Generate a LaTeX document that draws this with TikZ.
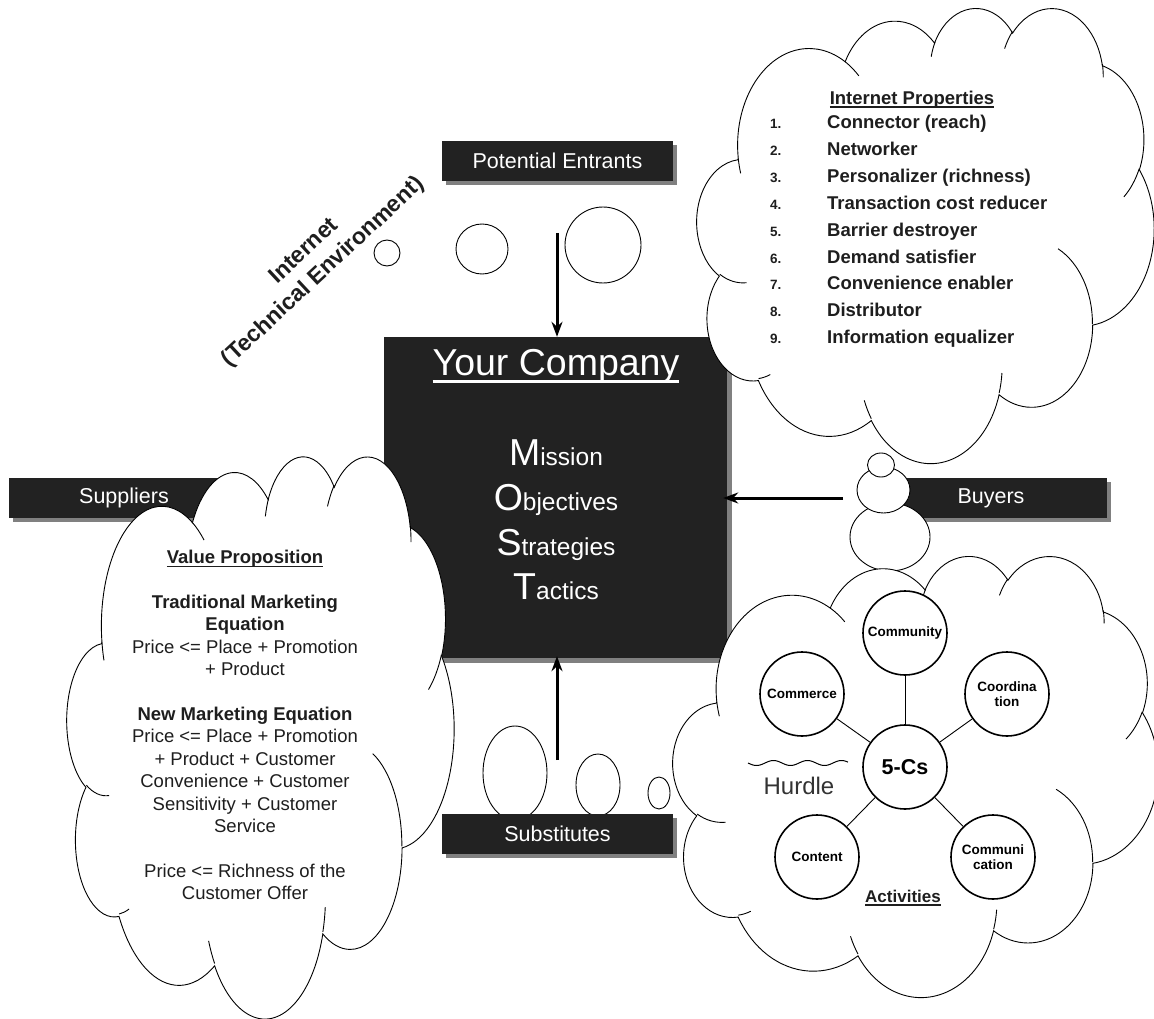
\documentclass[tikz,border=0pt]{standalone}
\usepackage{fontspec}
\setmainfont{Liberation Sans}
\usetikzlibrary{shadows,arrows.meta}
\definecolor{boxfill}{HTML}{222222}
\definecolor{shadowgray}{HTML}{808080}
\definecolor{txtdark}{HTML}{1E1E1E}
\definecolor{hurdlegray}{HTML}{333333}
\newcommand\myuline[3]{\leavevmode\setbox0\hbox{#3}\rlap{\rule[-#1]{\wd0}{#2}}\box0}
\tikzset{
  oo/.style n args={4}{x radius=#1, y radius=#2,
    start angle={atan2(sin(#3)*#1, cos(#3)*#2)},
    delta angle={mod(atan2(sin(#3+#4)*#1, cos(#3+#4)*#2) - atan2(sin(#3)*#1, cos(#3)*#2) + 720, 360)}},
  cloudline/.style={draw=black, line width=0.9pt},
  bubble/.style={draw=black, fill=white, line width=0.9pt},
  labelbox/.style={fill=boxfill, text=white, minimum width=231pt, minimum height=40pt, inner sep=0pt,
    font=\fontsize{21.5}{24}\selectfont,
    drop shadow={shadow xshift=4pt, shadow yshift=-4pt, fill=shadowgray, opacity=1}},
  bigbox/.style={fill=boxfill, minimum width=343pt, minimum height=321pt, inner sep=0pt,
    drop shadow={shadow xshift=5pt, shadow yshift=-5pt, fill=shadowgray, opacity=1}},
  most/.style={text=white, inner sep=0pt, font=\fontsize{24.5}{28}\selectfont},
  bigarrow/.style={line width=3pt, -{Stealth[length=15pt, width=11pt]}},
  cnode/.style={circle, draw=black, fill=white, line width=1.6pt, minimum size=84pt, inner sep=0pt,
    align=center, font=\bfseries\fontsize{13.5}{15}\selectfont},
  spoke/.style={draw=black, line width=0.9pt},
  ipnum/.style={inner sep=0pt, text=txtdark, font=\bfseries\fontsize{13.5}{15}\selectfont},
  iptext/.style={inner sep=0pt, text=txtdark, font=\bfseries\fontsize{18.5}{22}\selectfont}
}
\newcommand\ppcloud[4]{%
  \begin{scope}[shift={(#1,#2)}, xscale=#3/432, yscale=#4/432]
    \draw[cloudline, fill=white] (39.00,143.70)
      arc[oo={67.53}{91.90}{-190.48748}{123.78053}]
      arc[oo={53.33}{72.67}{-144.10238}{89.94523}]
      arc[oo={43.65}{59.45}{-145.80792}{99.72302}]
      arc[oo={48.57}{65.95}{-130.98607}{117.24173}]
      arc[oo={53.33}{72.73}{-78.70888}{109.02692}]
      arc[oo={67.75}{92.20}{-46.26725}{130.269}]
      arc[oo={57.85}{78.67}{0.62502}{114.03333}]
      arc[oo={67.52}{92.15}{22.4516}{115.17255}]
      arc[oo={77.20}{105.43}{66.24263}{75.71102}]
      arc[oo={43.60}{59.18}{-274.94208}{146.73557}]
      arc[oo={43.45}{59.45}{-246.8285}{152.51885}]
      -- cycle;
    \draw[cloudline]
      (46.93,261.77) arc[oo={43.45}{59.45}{86.742}{26.4295}]
      (69.28,348.99) arc[oo={43.60}{59.18}{73.61047}{11.44747}]
      (164.78,390.90) arc[oo={67.52}{92.15}{137.62415}{14.0811}]
      (288.27,347.51) arc[oo={67.52}{92.15}{6.45327}{15.99835}]
      (341.29,229.54) arc[oo={57.85}{78.67}{-70.29235}{70.91737}]
      (417.98,153.54) arc[oo={53.33}{72.73}{30.31803}{27.7515}]
      (383.24,54.26) arc[oo={48.57}{65.95}{-13.74433}{14.8589}]
      (290.78,39.52) arc[oo={48.57}{65.95}{-149.18145}{18.19537}]
      (221.41,47.20) arc[oo={43.65}{59.45}{-163.49427}{17.68635}]
      (140.00,51.92) arc[oo={67.53}{91.90}{-66.70695}{12.31935}]
      (41.27,157.89) arc[oo={67.53}{91.90}{157.65435}{11.85817}];
  \end{scope}}
\begin{document}
\begin{tikzpicture}[x=1pt, y=-1pt]
\useasboundingbox (0,0) rectangle (1154,1019);
\fill[white] (0,0) rectangle (1154,1019);
\clip (0,0) rectangle (1154,1019);

% central company box
\node[bigbox] (company) at (555.5,497.5) {};

% label boxes
\node[labelbox] (pe) at (557.5,161) {Potential Entrants};
\node[labelbox] (sup) at (124,498) {Suppliers};
\node[labelbox] (buy) at (991,498) {Buyers};

% callout tail bubbles
\draw[bubble] (603,245) circle [radius=38];
\draw[bubble] (482,249) ellipse [x radius=26, y radius=25];
\draw[bubble] (387,253) circle [radius=13];
\draw[bubble] (515,773) ellipse [x radius=32, y radius=47];
\draw[bubble] (598,785) ellipse [x radius=22, y radius=31];
\draw[bubble] (659,793) ellipse [x radius=11, y radius=16];
\draw[bubble] (890,537) ellipse [x radius=40, y radius=34];
\draw[bubble] (883.5,490) ellipse [x radius=26.5, y radius=23];
\draw[bubble] (881,465) ellipse [x radius=13.5, y radius=12];

\node[labelbox] (sub) at (557.5,834) {Substitutes};

% clouds
\ppcloud{697}{7}{457}{455}
\ppcloud{67}{455}{387}{562}
\ppcloud{673}{555}{485}{441}

% company texts
\node[text=white, inner sep=0pt, anchor=base, font=\fontsize{37.5}{40}\selectfont] (yc) at (556,375) {\myuline{7.5pt}{2.5pt}{Your Company}};
\node[most, anchor=base] (mo1) at (556,465) {{\fontsize{37.5}{40}\selectfont M}ission};
\node[most, anchor=base] (mo2) at (556,510) {{\fontsize{37.5}{40}\selectfont O}bjectives};
\node[most, anchor=base] (mo3) at (556,555) {{\fontsize{37.5}{40}\selectfont S}trategies};
\node[most, anchor=base] (mo4) at (556,599) {{\fontsize{37.5}{40}\selectfont T}actics};

% arrows
\coordinate (peA) at (557,233);
\coordinate (subA) at (557,760);
\coordinate (buyA) at (843,498);
\draw[bigarrow] (peA) -- (peA |- company.north);
\draw[bigarrow, shorten >=-2pt] (subA) -- (subA |- company.south);
\draw[bigarrow, shorten >=-4pt] (buyA) -- (buyA -| company.east);

% rotated label
\node[inner sep=0pt, align=center, rotate=43, text=txtdark, font=\bfseries\fontsize{23}{28}\selectfont] (inet) at (314,262) {Internet\\(Technical Environment)};

% Internet properties
\node[iptext, anchor=base] (iph) at (912,104.5) {\myuline{3.5pt}{1.5pt}{Internet Properties}};
\foreach \n/\t in {1/Connector (reach),2/Networker,3/Personalizer (richness),4/Transaction cost reducer,5/Barrier destroyer,6/Demand satisfier,7/Convenience enabler,8/Distributor,9/Information equalizer}{
  \node[ipnum, anchor=base west] (ipn\n) at (770,{128.5+26.9*(\n-1)}) {\n.};
  \node[iptext, anchor=base west] (ipt\n) at (827,{128.5+26.9*(\n-1)}) {\t};
}

% value proposition
\node[inner sep=0pt, align=center, text=txtdark, font=\fontsize{18.5}{22.4}\selectfont] (vp) at (245,725) {%
\textbf{\myuline{3.5pt}{1.5pt}{Value Proposition}}\\[22.4pt]
\textbf{Traditional Marketing}\\
\textbf{Equation}\\
Price <= Place + Promotion\\
+ Product\\[22.4pt]
\textbf{New Marketing Equation}\\
Price <= Place + Promotion\\
+ Product + Customer\\
Convenience + Customer\\
Sensitivity + Customer\\
Service\\[22.4pt]
Price <= Richness of the\\
Customer Offer};

% 5-Cs
\node[cnode] (comm) at (905,633) {Community};
\node[cnode] (comc) at (802,694) {Commerce};
\node[cnode] (coor) at (1007,694) {Coordina\\tion};
\node[cnode] (cont) at (817,857) {Content};
\node[cnode] (comu) at (993,857) {Communi\\cation};
\node[cnode, font=\bfseries\fontsize{21.5}{24}\selectfont] (five) at (905,767) {5-Cs};
\draw[spoke] (five) -- (comm);
\draw[spoke] (five) -- (comc);
\draw[spoke] (five) -- (coor);
\draw[spoke] (five) -- (cont);
\draw[spoke] (five) -- (comu);
\node[inner sep=0pt, text=hurdlegray, font=\fontsize{24}{28}\selectfont] (hurdle) at (799,786) {Hurdle};
\draw[line width=1pt] plot[domain=0:100, samples=80, smooth] ({748+\x},{763+2.5*sin(10.59*\x)});
\node[inner sep=0pt, text=txtdark, font=\bfseries\fontsize{17}{20}\selectfont] (act) at (903,898) {\myuline{3.5pt}{1.5pt}{Activities}};
\end{tikzpicture}
\end{document}
